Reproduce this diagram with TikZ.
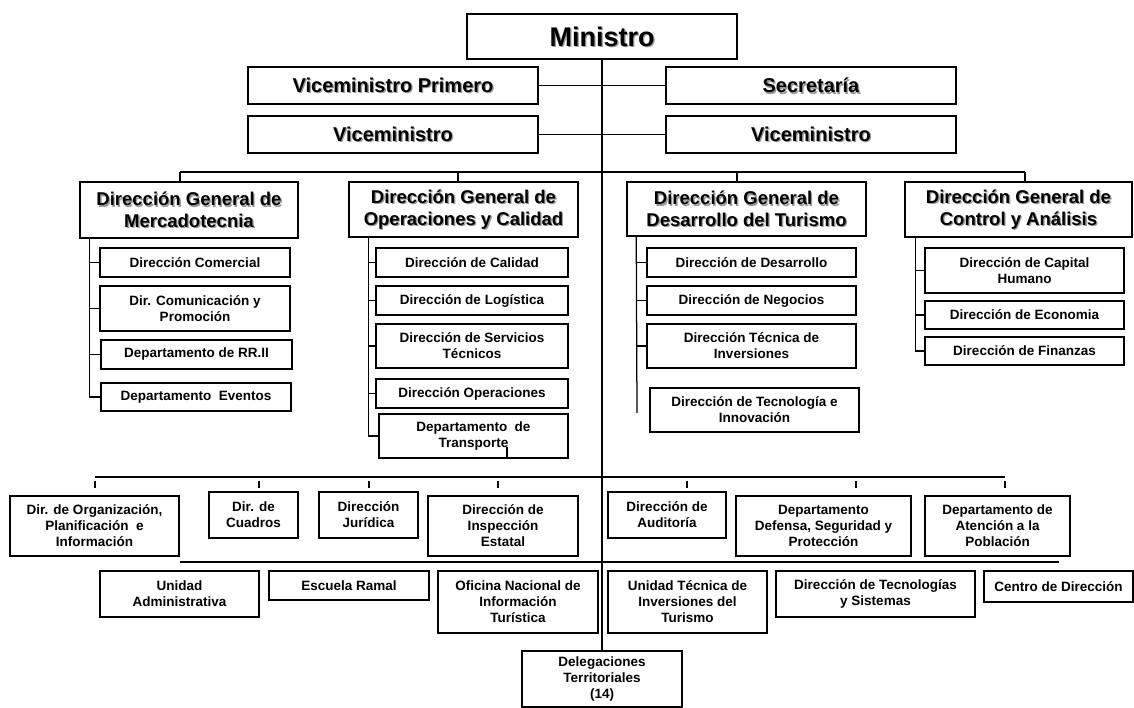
\documentclass[tikz,border=0pt]{standalone}
\usepackage{fontspec}
\setmainfont{Liberation Sans}
\begin{document}
\begin{tikzpicture}[x=1pt,y=-1pt,
  box/.style={draw=black, line width=1.5pt, inner sep=1pt, align=center, fill=white,
    font=\bfseries\fontsize{13.5}{16}\selectfont},
  big/.style={font=\bfseries\fontsize{27}{30}\selectfont},
  mid/.style={font=\bfseries\fontsize{20}{23}\selectfont},
  dg/.style={font=\bfseries\fontsize{18.5}{21.7}\selectfont},
  txt/.style={align=center, inner sep=0pt},
  conn/.style={draw=black, line width=1.25pt}]
\useasboundingbox (0,0) rectangle (1134,708);
\newcommand{\mybox}[7]{%
  \node[box,#6,minimum width={(#4)-(#2)},minimum height={(#5)-(#3)}] (#1) at ({((#2)+(#4))/2},{((#3)+(#5))/2}) {#7};}
\newcommand{\shbox}[7]{%
  \node[box,#6,minimum width={(#4)-(#2)},minimum height={(#5)-(#3)}] (#1) at ({((#2)+(#4))/2},{((#3)+(#5))/2}) {};
  \node[txt,#6,text=black!40] at ([shift={(1.3,1.3)}]#1.center) {#7};
  \node[txt,#6] at (#1.center) {#7};}
% connectors first (behind boxes)
\coordinate (mtop) at (602,59);
\coordinate (mbot) at (602,651);
\draw[conn] (mtop) -- (mbot);
\coordinate (g1) at (180,172); \coordinate (g2) at (458,172);
\coordinate (g3) at (737,172); \coordinate (g4) at (1025,172);
\draw[conn] (g1) -- (g4);
\coordinate (h1) at (95,477); \coordinate (h2) at (1005,477);
\draw[conn] (h1) -- (h2);
\coordinate (k1) at (180,562); \coordinate (k2) at (1025,562);
\draw[conn] (k1) -- (k2);
% top
\shbox{ministro}{467}{14}{737}{59}{big}{Ministro}
\shbox{vp}{248}{67}{538}{104}{mid}{Viceministro Primero}
\shbox{sec}{666}{67}{956}{104}{mid}{Secretaría}
\shbox{vma}{248}{116}{538}{153}{mid}{Viceministro}
\shbox{vmb}{666}{116}{956}{153}{mid}{Viceministro}
\draw[conn] (vp.east) -- (sec.west);
\draw[conn] (vma.east) -- (vmb.west);
% DG
\shbox{dgm}{80}{182}{298}{238}{dg}{Dirección General de\\Mercadotecnia}
\shbox{dgo}{349}{182}{578}{237}{dg}{Dirección General de\\Operaciones y Calidad}
\shbox{dgd}{627}{182}{866}{236}{dg}{Dirección General de\\Desarrollo del Turismo}
\shbox{dgc}{905}{182}{1132}{237}{dg}{Dirección General de\\Control y Análisis}
\foreach \g/\n in {g1/dgm,g2/dgo,g3/dgd,g4/dgc} \draw[conn] (\g) -- (\g |- \n.north);
% Mercadotecnia
\mybox{ca}{100}{248}{290}{277}{}{Dirección Comercial}
\mybox{cb}{100}{286}{290}{331}{}{Dir. Comunicación y\\Promoción}
\mybox{cc}{101}{340}{292}{369}{}{Departamento de RR.II}
\mybox{cd}{101}{383}{291}{411}{}{Departamento~~Eventos}
\coordinate (tm) at ([xshift=10pt]dgm.south west);
\draw[conn] (tm) -- (tm |- cd.west);
\foreach \n in {ca,cb,cc,cd} \draw[conn] (tm |- \n.west) -- (\n.west);
% Operaciones
\mybox{oa}{376}{248}{568}{277}{}{Dirección de Calidad}
\mybox{ob}{376}{286}{568}{315}{}{Dirección de Logística}
\mybox{oc}{376}{324}{568}{368}{}{Dirección de Servicios\\Técnicos}
\mybox{od}{376}{379}{568}{408}{}{Dirección Operaciones}
\mybox{oe}{379}{414}{568}{458}{}{Departamento~~de\\Transporte}
\coordinate (to) at ([xshift=20pt]dgo.south west);
\draw[conn] (to) -- (to |- oe.west);
\foreach \n in {oa,ob,oc,od,oe} \draw[conn] (to |- \n.west) -- (\n.west);
\coordinate (tt) at (507,447);
\draw[conn] (tt) -- (tt |- oe.south);
% Desarrollo
\mybox{da}{647}{248}{856}{277}{}{Dirección de Desarrollo}
\mybox{db}{647}{286}{856}{315}{}{Dirección de Negocios}
\mybox{dc}{647}{324}{856}{368}{}{Dirección Técnica de\\Inversiones}
\mybox{dd}{650}{388}{859}{432}{}{Dirección de Tecnología e\\Innovación}
\coordinate (td) at ([xshift=10pt]dgd.south west);
\coordinate (tde) at (637,413);
\draw[conn] (td) -- (tde);
\foreach \n in {da,db,dc} \draw[conn] (td |- \n.west) -- (\n.west);
% Control
\mybox{ka}{925}{248}{1124}{293}{}{Dirección de Capital\\Humano}
\mybox{kb}{925}{301}{1124}{329}{}{Dirección de Economia}
\mybox{kc}{925}{337}{1124}{365}{}{Dirección de Finanzas}
\coordinate (tk) at ([xshift=11pt]dgc.south west);
\draw[conn] (tk) -- (tk |- kc.west);
\foreach \n in {ka,kb,kc} \draw[conn] (tk |- \n.west) -- (\n.west);
% bottom row 1
\mybox{ba}{10}{496}{179}{556}{}{Dir. de Organización,\\Planificación~~e\\Información}
\mybox{bb}{209}{492}{298}{538}{}{Dir. de\\Cuadros}
\mybox{bc}{319}{492}{418}{538}{}{Dirección\\Jurídica}
\mybox{bd}{428}{496}{578}{556}{}{Dirección de\\Inspección\\Estatal}
\mybox{be}{608}{492}{726}{538}{}{Dirección de\\Auditoría}
\mybox{bf}{736}{496}{911}{556}{}{Departamento\\Defensa, Seguridad y\\Protección}
\mybox{bg}{925}{496}{1070}{556}{}{Departamento de\\Atención a la\\Población}
\foreach \x in {95,259,369,498,687,856,1005} \draw[conn] (\x,481) -- (\x,488);
% bottom row 2
\mybox{ra}{100}{571}{259}{617}{}{Unidad\\Administrativa}
\mybox{rb}{269}{571}{429}{600}{}{Escuela Ramal}
\mybox{rc}{438}{571}{598}{633}{}{Oficina Nacional de\\Información\\Turística}
\mybox{rd}{608}{571}{767}{633}{}{Unidad Técnica de\\Inversiones del\\Turismo}
\mybox{re}{776}{571}{975}{617}{}{Dirección de Tecnologías\\y Sistemas}
\mybox{rf}{984}{571}{1133}{602}{}{Centro de Dirección}
\foreach \x/\n in {180/ra,349/rb,518/rc,697/rd,866/re,1025/rf} \draw[conn] (\x,562) -- (\x,562 -| \n.north);
\mybox{deleg}{522}{651}{682}{707}{}{Delegaciones\\Territoriales\\(14)}
\end{tikzpicture}
\end{document}
